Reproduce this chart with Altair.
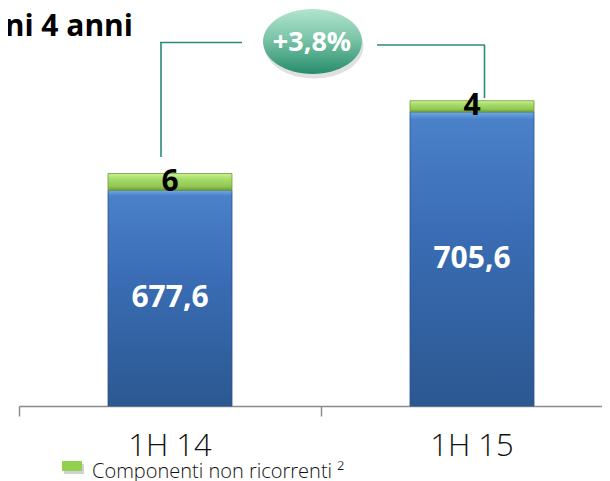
import altair as alt
import pandas as pd

# ---- data ----
categories = ["1H 14", "1H 15"]
recurring = [677.6, 705.6]
non_recurring = [6, 4]
growth_label = "+3,8%"
title_text = "ni 4 anni"
legend_label = "Componenti non ricorrenti ²"

Y_MIN, Y_MAX = 600.6, 742.7
FONT = "Open Sans"


def fmt(v):
    s = f"{int(v)}" if float(v).is_integer() else f"{v:.1f}"
    return s.replace(".", ",")


bars = pd.DataFrame({"cat": categories, "rec": recurring, "nonrec": non_recurring})
bars["base"] = Y_MIN
bars["top"] = bars["rec"] + bars["nonrec"]
bars["rec_mid"] = (bars["base"] + bars["rec"]) / 2
bars["nonrec_mid"] = bars["rec"] + bars["nonrec"] / 2
bars["rec_label"] = [fmt(v) for v in recurring]
bars["nonrec_label"] = [fmt(v) for v in non_recurring]

deco = pd.DataFrame({"k": [0]})

xenc = alt.X(
    "cat:N",
    sort=categories,
    scale=alt.Scale(range=[0, 604], paddingInner=0, paddingOuter=0),
    axis=alt.Axis(
        title=None,
        bandPosition=0,
        labelAngle=0,
        labelFont=FONT,
        labelFontSize=31,
        labelFontWeight=300,
        labelColor="#111111",
        labelPadding=15,
        domainColor="#8c8c8c",
        domainWidth=1.5,
        tickColor="#8c8c8c",
        tickWidth=1.5,
        tickSize=10,
        grid=False,
    ),
)
yscale = alt.Scale(domain=[Y_MIN, Y_MAX], zero=False, nice=False)


def lin(stops):
    return alt.LinearGradient(
        gradient="linear",
        stops=[alt.GradientStop(color=c, offset=o) for o, c in stops],
        x1=0, x2=0, y1=0, y2=1,
    )


blue_fill = lin([(0, "#72aaec"), (0.025, "#4a81c8"), (0.4, "#3a6db5"), (1, "#2c5891")])
green_fill = lin([(0, "#cdf294"), (0.3, "#a9dd6c"), (0.75, "#93c855"), (1, "#6f9c38")])
ell_fill = lin([(0, "#b2e4d0"), (0.45, "#7cc5a8"), (1, "#268c6c")])

base = alt.Chart(bars)

blue = base.mark_bar(size=124, fill=blue_fill, stroke="#2b5288", strokeWidth=0.8).encode(
    x=xenc, y=alt.Y("rec:Q", scale=yscale, axis=None), y2="base:Q"
)
green = base.mark_bar(size=124, fill=green_fill, stroke="#6f9a3a", strokeWidth=0.8).encode(
    x=xenc, y=alt.Y("top:Q", scale=yscale, axis=None), y2="rec:Q"
)
blue_txt = base.mark_text(
    font=FONT, fontSize=30, fontWeight="bold", color="white", baseline="middle"
).encode(x=xenc, y=alt.Y("rec_mid:Q", scale=yscale, axis=None), text="rec_label:N")
green_txt = base.mark_text(
    font=FONT, fontSize=30, fontWeight="bold", color="black", baseline="middle"
).encode(x=xenc, y=alt.Y("nonrec_mid:Q", scale=yscale, axis=None), text="nonrec_label:N")

line_col = "#2a8a78"


def rule(x1, x2, y1, y2):
    return alt.Chart(deco).mark_rule(color=line_col, strokeWidth=1.6).encode(
        x=alt.value(x1), x2=alt.value(x2), y=alt.value(y1), y2=alt.value(y2)
    )


connectors = [
    rule(141, 223, 34.5, 34.5),
    rule(142, 142, 34.5, 149),
    rule(358, 466, 37, 37),
    rule(465.5, 465.5, 37, 90),
]

ELL = "M-1,0A1,0.657,0,1,0,1,0A1,0.657,0,1,0,-1,0Z"
ell_shadow = alt.Chart(deco).mark_point(
    shape=ELL, size=9801, filled=True, fill="#000000", opacity=0.12, strokeWidth=0
).encode(x=alt.value(295), y=alt.value(38))
ellipse = alt.Chart(deco).mark_point(
    shape=ELL, size=9801, filled=True, fill=ell_fill, opacity=1, strokeWidth=0
).encode(x=alt.value(293.5), y=alt.value(33.5))
ell_txt = alt.Chart(deco).mark_text(
    font=FONT, fontSize=27, fontWeight="bold", color="white", baseline="middle"
).encode(x=alt.value(293), y=alt.value(35), text=alt.value(growth_label))

title = alt.Chart(deco).mark_text(
    font=FONT, fontSize=30, fontWeight="bold", color="black", align="right", baseline="alphabetic"
).encode(x=alt.value(114), y=alt.value(28), text=alt.value(title_text))

leg_shadow = alt.Chart(deco).mark_rect(color="#000000", opacity=0.18).encode(
    x=alt.value(45), x2=alt.value(65), y=alt.value(456), y2=alt.value(466)
)
leg_rect = alt.Chart(deco).mark_rect(color="#92d050").encode(
    x=alt.value(43), x2=alt.value(63), y=alt.value(453), y2=alt.value(463)
)
leg_txt = alt.Chart(deco).mark_text(
    font=FONT, fontSize=20, fontWeight=300, color="#111111", align="left", baseline="alphabetic"
).encode(x=alt.value(73), y=alt.value(470), text=alt.value(legend_label))

chart = alt.layer(
    blue, green, blue_txt, green_txt, *connectors, ell_shadow, ellipse, ell_txt,
    title, leg_shadow, leg_rect, leg_txt
).properties(
    width=583,
    height=398,
    autosize=alt.AutoSizeParams(type="none"),
    padding={"left": 11, "top": 0, "right": 0, "bottom": 75},
    background="white",
).configure_view(stroke=None)

chart.save("out.html", embed_options={"renderer": "svg", "actions": False})
